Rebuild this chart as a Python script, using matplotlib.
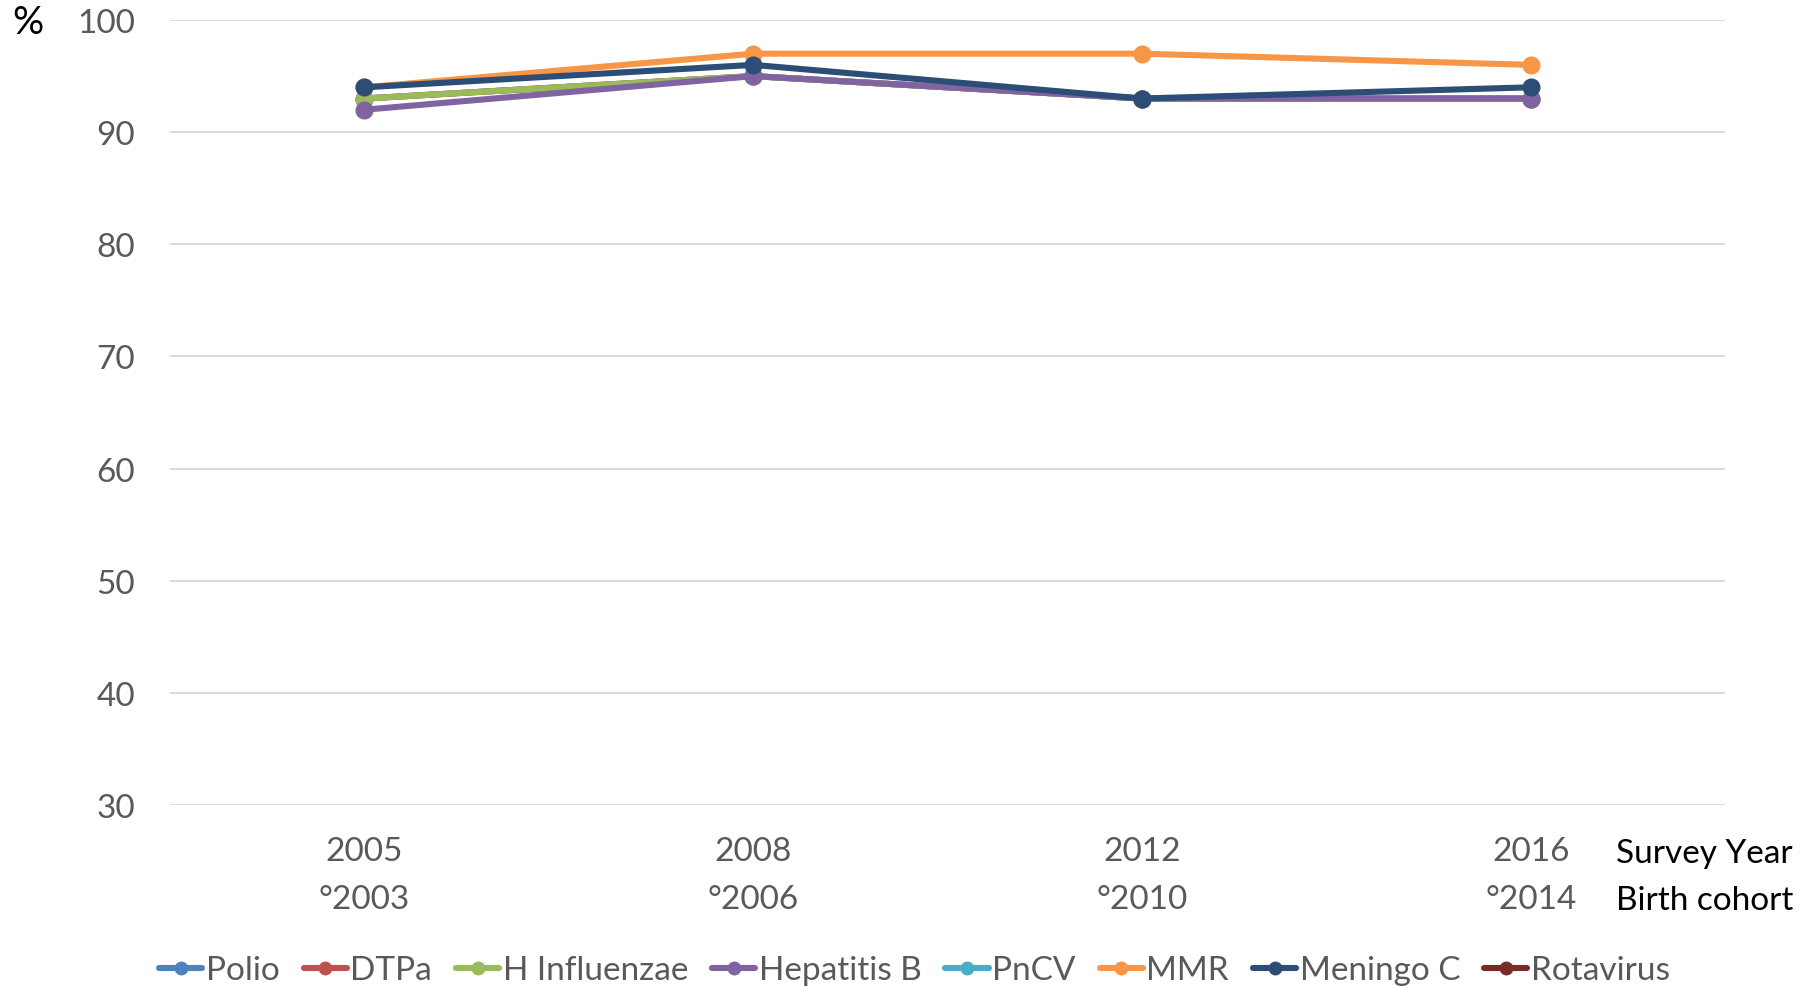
import numpy as np
import matplotlib
matplotlib.use('Agg')
import matplotlib.pyplot as plt

# survey years and matching birth cohorts
survey_years = ['2005', '2008', '2012', '2016']
birth_cohorts = ['°2003', '°2006', '°2010', '°2014']

# vaccination coverage (%) per vaccine
nan = np.nan
polio = [93, 95, 93, 93]
dtpa = [93, 95, 93, 93]
h_influenzae = [93, 95, 93, 93]
hepatitis_b = [92, 95, 93, 93]
pncv = [nan, nan, nan, nan]
mmr = [94, 97, 97, 96]
meningo_c = [94, 96, 93, 94]
rotavirus = [nan, nan, nan, nan]

series_names = ['Polio', 'DTPa', 'H Influenzae', 'Hepatitis B', 'PnCV', 'MMR', 'Meningo C', 'Rotavirus']
series_vals = [polio, dtpa, h_influenzae, hepatitis_b, pncv, mmr, meningo_c, rotavirus]
colors = ['#4F81BD', '#C0504D', '#9BBB59', '#8064A2', '#4BACC6', '#F79646', '#2C4D75', '#772C2A']

plt.rcParams['font.family'] = ['Lato', 'DejaVu Sans']

fig = plt.figure(figsize=(18.18, 9.87), dpi=100)
ax = fig.add_axes([0.0935, 0.1834, 0.8555, 0.7953])

x = np.arange(len(survey_years))
for name, vals, c in zip(series_names, series_vals, colors):
    ax.plot(x, vals, color=c, linewidth=4.4, marker='o', markersize=12,
            solid_capstyle='round', label=name)

ax.set_xlim(-0.5, len(survey_years) - 0.5)
ax.set_ylim(30, 100)
ax.set_yticks(range(30, 101, 10))
ax.grid(axis='y', color='#D9D9D9', linewidth=1.4)
ax.set_axisbelow(True)
for sp in ax.spines.values():
    sp.set_visible(False)
ax.tick_params(axis='both', length=0, labelsize=24, labelcolor='#595959')
ax.tick_params(axis='y', pad=25)
ax.tick_params(axis='x', pad=22)
ax.set_xticks(x)
ax.set_xticklabels([a + '\n' + b for a, b in zip(survey_years, birth_cohorts)])
for lab in ax.get_xticklabels():
    lab.set_linespacing(1.75)

# axis annotations
fig.text(0.007, 0.995, '%', fontsize=28, color='black', va='top', ha='left')
fig.text(0.889, 0.1347, 'Survey Year', fontsize=24, color='black', va='center', ha='left')
fig.text(0.889, 0.087, 'Birth cohort', fontsize=24, color='black', va='center', ha='left')

leg = fig.legend(loc='center', bbox_to_anchor=(0.503, 0.016), ncol=8, frameon=False,
                 fontsize=24, handlelength=1.3, handletextpad=0.1, columnspacing=0.72,
                 markerscale=0.75)
for t in leg.get_texts():
    t.set_color('#595959')

fig.savefig('out.png', dpi=100)
